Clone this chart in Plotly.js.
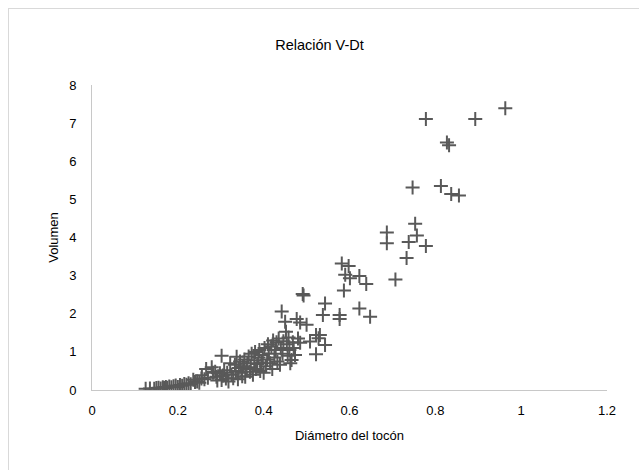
<!DOCTYPE html>
<html>
<head>
<meta charset="utf-8">
<script src="https://cdn.plot.ly/plotly-3.0.1.min.js"></script>
<style>
html,body{margin:0;padding:0;background:#fff;overflow:hidden;}
#wrap{position:relative;width:639px;height:470px;}
#chart{position:absolute;left:0;top:0;width:639px;height:470px;}
#frame{position:absolute;left:8px;top:8px;width:660px;height:490px;border:1px solid #d9d9d9;pointer-events:none;}
</style>
</head>
<body>
<div id="wrap"><div id="chart"></div><div id="frame"></div></div>
<script>
const diametro = [
 0.125,0.135,0.145,0.150,0.155,0.160,0.165,0.168,0.172,0.175,0.180,0.185,0.190,0.195,0.200,0.205,0.210,0.215,0.220,0.225,0.230,0.236,0.240,0.245,0.250,0.255,
 0.256,0.262,0.266,0.270,0.279,0.282,0.287,0.290,0.292,0.298,0.302,0.302,0.305,0.308,0.312,0.315,0.318,0.322,0.325,0.329,0.333,0.335,0.337,0.340,
 0.342,0.345,0.348,0.350,0.352,0.355,0.357,0.360,0.362,0.365,0.368,0.370,0.372,0.375,0.378,0.380,0.382,0.385,0.388,0.390,
 0.392,0.395,0.398,0.400,0.402,0.405,0.408,0.410,0.412,0.415,0.418,0.420,0.422,0.425,0.428,0.430,0.432,0.435,0.438,0.440,
 0.442,0.444,0.446,0.450,0.452,0.454,0.456,0.458,0.460,0.462,0.465,0.468,0.470,0.473,0.477,0.480,0.485,0.485,0.491,0.493,
 0.500,0.508,0.522,0.528,0.522,0.531,0.538,0.543,0.543,0.577,0.577,0.582,0.598,0.590,0.601,0.587,0.623,0.623,0.639,0.648,
 0.707,0.687,0.687,0.733,0.738,0.747,0.753,0.757,0.778,0.778,0.813,0.827,0.832,0.837,0.855,0.893,0.963
];
const volumen = [
 0.03,0.04,0.03,0.05,0.06,0.04,0.07,0.05,0.08,0.06,0.09,0.07,0.10,0.12,0.08,0.13,0.11,0.16,0.14,0.18,0.15,0.27,0.21,0.22,0.19,0.30,
 0.39,0.28,0.55,0.32,0.60,0.45,0.48,0.35,0.25,0.44,0.26,0.90,0.38,0.52,0.30,0.45,0.22,0.70,0.40,0.31,0.66,0.50,0.87,0.28,
 0.58,0.75,0.45,0.36,0.62,0.80,0.35,0.55,0.70,0.88,0.48,0.60,0.95,0.40,0.78,1.00,0.55,0.68,0.85,1.05,
 0.50,0.72,0.92,0.45,1.10,0.62,0.80,1.20,0.95,0.70,1.15,0.55,1.30,0.85,1.05,1.25,0.75,1.35,0.66,1.10,
 2.06,0.95,1.28,1.79,1.53,1.20,0.90,1.38,1.05,0.70,0.79,1.25,1.10,0.92,1.86,1.35,1.77,1.24,2.52,2.48,
 1.71,1.27,1.44,1.36,0.94,1.44,1.97,2.27,1.18,1.97,1.86,3.32,3.25,3.02,2.93,2.61,2.99,2.14,2.78,1.92,
 2.90,4.13,3.85,3.46,3.88,5.31,4.36,4.05,3.78,7.11,5.35,6.49,6.42,5.14,5.10,7.11,7.39
];
const xTicks = [0,0.2,0.4,0.6,0.8,1,1.2];
const xTickLabels = ['0','0.2','0.4','0.6','0.8','1','1.2'];
const yTicks = [0,1,2,3,4,5,6,7,8];
const yTickLabels = ['0','1','2','3','4','5','6','7','8'];

const font = 'Liberation Sans, Arial, sans-serif';
Plotly.newPlot('chart', [{
  x: diametro, y: volumen, type: 'scatter', mode: 'markers',
  marker: {symbol: 'cross-thin', size: 10, line: {width: 2, color: '#595959'}, color: '#595959'},
  hoverinfo: 'x+y'
}], {
  width: 639, height: 470,
  margin: {l: 92, r: 32, t: 85, b: 80},
  paper_bgcolor: '#fff', plot_bgcolor: '#fff',
  showlegend: false,
  title: {text: 'Relación V-Dt', font: {family: font, size: 14.5, color: '#000'}, x: 0.5, xanchor: 'center', y: 0.905, yanchor: 'middle'},
  xaxis: {
    range: [0, 1.2], tickvals: xTicks, ticktext: xTickLabels,
    showgrid: false, zeroline: false, showline: true, linecolor: '#c8c8c8', linewidth: 1,
    ticks: '', ticklabelstandoff: 8,
    tickfont: {family: font, size: 13, color: '#000'},
    title: {text: 'Diámetro del tocón', font: {family: font, size: 13, color: '#000'}, standoff: 14}
  },
  yaxis: {
    range: [0, 8], tickvals: yTicks, ticktext: yTickLabels,
    showgrid: false, zeroline: false, showline: true, linecolor: '#c8c8c8', linewidth: 1,
    ticks: '', ticklabelstandoff: 12,
    tickfont: {family: font, size: 13, color: '#000'},
    title: {text: 'Volumen', font: {family: font, size: 13, color: '#000'}, standoff: 7}
  }
}, {displayModeBar: false, staticPlot: true});
</script>
</body>
</html>
